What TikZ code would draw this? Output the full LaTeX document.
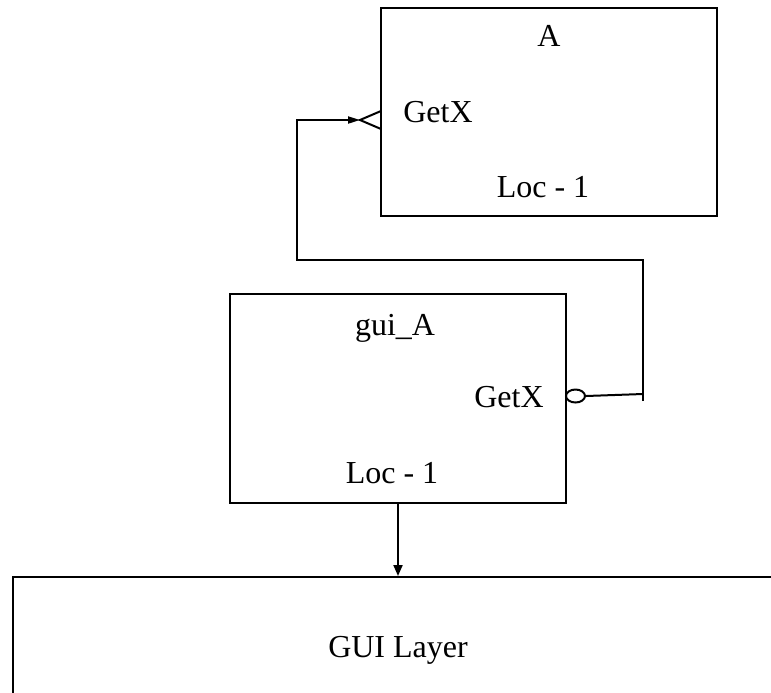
\documentclass[tikz,border=0pt]{standalone}
\usepackage{fontspec}
\setmainfont{Liberation Serif}
\usetikzlibrary{arrows.meta,positioning,shapes.geometric}

\begin{document}
\begin{tikzpicture}[
  x=0.5pt, y=-0.5pt,
  line width=1pt,
  blk/.style={draw, rectangle, minimum width=168pt, minimum height=104pt, inner sep=0pt},
  txt/.style={anchor=base, inner sep=0pt, font=\fontsize{16}{19}\selectfont},
  tip/.style={-{Triangle[length=6pt,width=3.5pt]}},
  port/.style={draw, ellipse, minimum width=9.5pt, minimum height=6.5pt, inner sep=0pt}
]
\clip (0,0) rectangle (771,692);
% boxes
\node[blk] (boxA) at (549,112) {};
\node[blk, minimum height=104.5pt] (guiA) at (398,398.5) {};
\node[draw, anchor=north west, minimum width=500pt, minimum height=120pt] (layer) at (12,576) {};
% texts
\node[txt] (tA) at (549,46) {A};
\node[txt] (getA) at (438,122) {GetX};
\node[txt] (locA) at (543,197) {Loc - 1};
\node[txt] (tG) at (395,335) {gui\_A};
\node[txt] (getG) at (509,407) {GetX};
\node[txt] (locG) at (392,483) {Loc - 1};
\node[txt] (tL) at (398,657) {GUI Layer};
% ports
\node[port] (portG) at (575.5,396) {};
\coordinate (vTop) at (381,111);
\coordinate (vTip) at (360,120);
\coordinate (vBot) at (381,129);
\draw (vTop) -- (vTip) -- (vBot);
% connectors
\coordinate (jR) at (643,394);
\coordinate (stubR) at (643,401);
\coordinate (topR) at (643,260);
\coordinate (topL) at (297,260);
\coordinate (elbL) at (297,120);
\draw (portG.east) -- (jR);
\draw[tip] (stubR) -- (topR) -- (topL) -- (elbL) -- (vTip);
\draw[-{Triangle[length=5.5pt,width=4.5pt]}] (guiA.south) -- (guiA.south |- layer.north);
\end{tikzpicture}
\end{document}
